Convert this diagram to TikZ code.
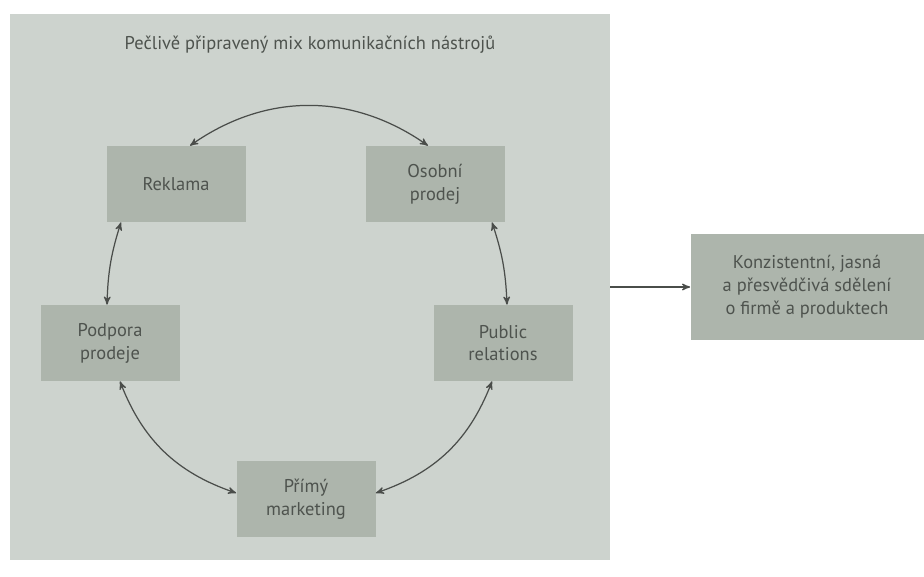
\documentclass[tikz,border=0pt]{standalone}
\usepackage{fontspec}
\setmainfont{PT Sans}
\usepackage{xcolor}
\usepackage{tikz}
\usetikzlibrary{arrows}

\definecolor{panelgray}{HTML}{CDD3CE}
\definecolor{boxgray}{HTML}{ADB5AC}
\definecolor{txtgray}{HTML}{4E534E}
\definecolor{arrgray}{HTML}{4A4D4A}

\begin{document}
\begin{tikzpicture}[node distance=3.18cm, >=stealth',
    block/.style={rectangle, fill=boxgray, minimum height=1.52cm,
                  minimum width=2.78cm, align=center, text=txtgray,
                  font=\fontsize{10.5}{13}\selectfont},
    arrow/.style={<->, line width=0.7pt, draw=arrgray}]
    \useasboundingbox (0,0) rectangle (18.48,-11.52);
    \node[rectangle, fill=panelgray, minimum width=12cm, minimum height=10.92cm,
          inner sep=0pt] (mix) at (6.2,-5.74) {};
    \node[text=txtgray, font=\fontsize{10.5}{13}\selectfont] (title) at (6.2,-0.9)
        {Pečlivě připravený mix komunikačních nástrojů};
    \node[block] (reklama) at (3.52,-3.68) {Reklama};
    \node[block, right of=reklama, node distance=5.18cm] (osobni) {Osobní\\prodej};
    \node[block, below of=reklama, xshift=-1.32cm] (podpora) {Podpora\\prodeje};
    \node[block, below of=osobni, xshift=1.36cm] (public) {Public\\relations};
    \node[block, below of=podpora, node distance=3.12cm, xshift=3.92cm] (primy) {Přímý\\marketing};
    \node[block, right of=mix, node distance=9.94cm, minimum width=4.66cm,
          minimum height=2.12cm] (konz) {Konzistentní, jasná\\a přesvědčivá sdělení\\o firmě a produktech};
    \draw[arrow] ([xshift=0.28cm]reklama.north) to[bend left=35] ([xshift=-0.14cm]osobni.north);
    \draw[arrow] ([xshift=-1.1cm]reklama.south) to[bend right=8] ([xshift=-0.06cm]podpora.north);
    \draw[arrow] ([xshift=1.14cm]osobni.south) to[bend left=8] ([xshift=0.08cm]public.north);
    \draw[arrow] ([xshift=0.2cm]podpora.south) to[bend right=25] ([yshift=0.12cm]primy.west);
    \draw[arrow] ([xshift=-0.22cm]public.south) to[bend left=25] ([yshift=0.12cm]primy.east);
    \draw[arrow, <-] (konz) -- (mix);
\end{tikzpicture}
\end{document}
